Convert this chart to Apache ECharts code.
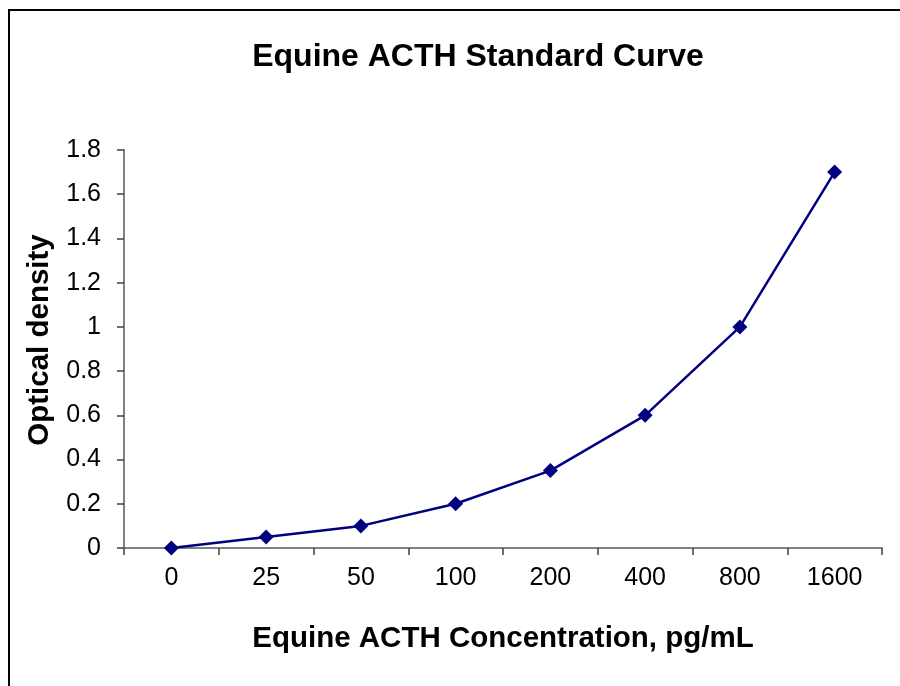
<!DOCTYPE html>
<html>
<head>
<meta charset="utf-8">
<script src="https://cdn.jsdelivr.net/npm/echarts@6/dist/echarts.min.js"></script>
<style>
html,body{margin:0;padding:0;background:#fff;}
#chart{width:900px;height:686px;}
</style>
</head>
<body>
<div id="chart"></div>
<script>
const categories = ['0', '25', '50', '100', '200', '400', '800', '1600'];
const opticalDensity = [0, 0.05, 0.1, 0.2, 0.35, 0.6, 1.0, 1.7];
const chartTitle = 'Equine ACTH Standard Curve';
const xName = 'Equine ACTH Concentration, pg/mL';
const yName = 'Optical density';

const chart = echarts.init(document.getElementById('chart'), null, {renderer: 'canvas'});
const FONT = '"Liberation Sans", Arial, sans-serif';
chart.setOption({
  animation: false,
  backgroundColor: '#fff',
  textStyle: {fontFamily: FONT},
  title: {
    text: chartTitle,
    left: 478,
    top: 57,
    textAlign: 'center',
    textVerticalAlign: 'middle',
    padding: 0,
    textStyle: {fontFamily: FONT, fontSize: 32, fontWeight: 'bold', color: '#000'}
  },
  graphic: [{
    type: 'rect',
    shape: {x: 9, y: 10, width: 1000, height: 1000},
    style: {fill: 'none', stroke: '#000', lineWidth: 2},
    silent: true
  }],
  grid: {left: 124, top: 150, right: 18, bottom: 138, containLabel: false},
  xAxis: {
    type: 'category',
    data: categories,
    boundaryGap: true,
    name: xName,
    nameLocation: 'middle',
    nameGap: 76,
    nameTextStyle: {fontFamily: FONT, fontSize: 29.5, fontWeight: 'bold', color: '#000'},
    axisLine: {show: true, lineStyle: {color: '#808080', width: 2}},
    axisTick: {show: true, length: 7, alignWithLabel: false, lineStyle: {color: '#404040', width: 1.5}},
    axisLabel: {fontFamily: FONT, fontSize: 25, color: '#000', margin: 18, interval: 0},
    splitLine: {show: false}
  },
  yAxis: {
    type: 'value',
    min: 0,
    max: 1.8,
    interval: 0.2,
    name: yName,
    nameLocation: 'middle',
    nameGap: 66,
    nameRotate: 90,
    nameTextStyle: {fontFamily: FONT, fontSize: 29.5, fontWeight: 'bold', color: '#000', padding: [0, 0, 0, 18]},
    axisLine: {show: true, lineStyle: {color: '#808080', width: 2}},
    axisTick: {show: true, length: 7, lineStyle: {color: '#404040', width: 1.5}},
    axisLabel: {fontFamily: FONT, fontSize: 25, color: '#000', margin: 23},
    splitLine: {show: false}
  },
  series: [{
    type: 'line',
    data: opticalDensity,
    symbol: 'diamond',
    symbolSize: 15,
    showAllSymbol: true,
    lineStyle: {color: '#000080', width: 2.5},
    itemStyle: {color: '#000080'}
  }]
});
</script>
</body>
</html>
